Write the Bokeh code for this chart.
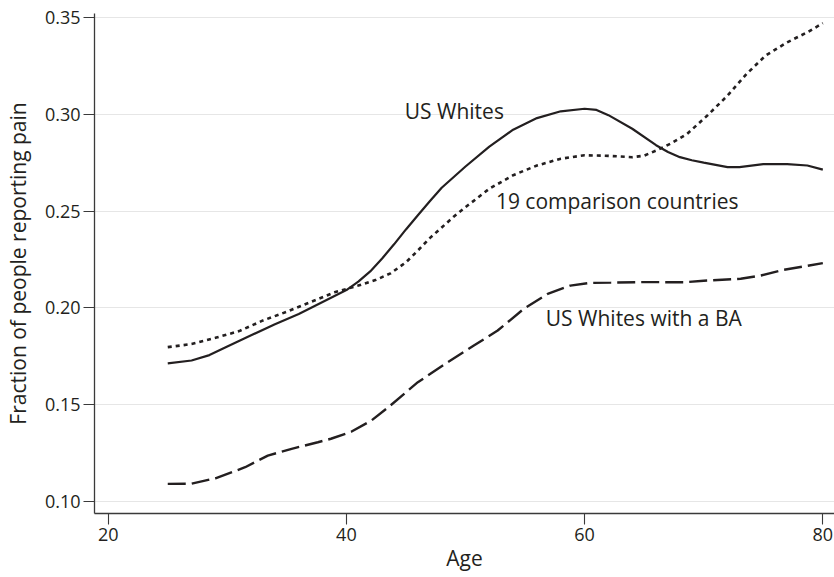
from bokeh.plotting import figure
from bokeh.models import Range1d, FixedTicker, NumeralTickFormatter, Label
from bokeh.embed import file_html
from bokeh.resources import INLINE

# ---------------- data ----------------
ages_us_whites = [25, 27, 28.5, 30, 32, 34, 36, 38, 40, 41, 42, 43, 44, 45, 46, 47,
                  48, 50, 52, 54, 56, 58, 60, 61, 62, 64, 66, 67, 68, 69, 70, 72,
                  73, 75, 77, 78.7, 80]
pain_us_whites = [0.1713, 0.1728, 0.1756, 0.1800, 0.1858, 0.1915, 0.1968, 0.2030,
                  0.2092, 0.2135, 0.2188, 0.2255, 0.2328, 0.2405, 0.2478, 0.2550,
                  0.2620, 0.2730, 0.2833, 0.2920, 0.2980, 0.3015, 0.3028, 0.3022,
                  0.2995, 0.2925, 0.2840, 0.2805, 0.2778, 0.2762, 0.2750, 0.2727,
                  0.2727, 0.2742, 0.2742, 0.2735, 0.2714]

ages_comparison = [25, 27, 29, 31, 33, 35, 37, 39, 41, 42.5, 43.7, 45, 46, 47, 48,
                   49, 50, 52, 54, 56, 58, 60, 62, 64, 65, 66, 67.2, 68.6, 70.3,
                   72, 73.6, 75.2, 77, 78.7, 80]
pain_comparison = [0.1797, 0.1813, 0.1845, 0.1880, 0.1935, 0.1980, 0.2030, 0.2080,
                   0.2115, 0.2145, 0.2178, 0.2235, 0.2296, 0.2360, 0.2415, 0.2470,
                   0.2520, 0.2615, 0.2685, 0.2735, 0.2770, 0.2788, 0.2785, 0.2778,
                   0.2786, 0.2812, 0.2847, 0.2898, 0.2993, 0.3096, 0.3208, 0.3303,
                   0.3371, 0.3423, 0.3470]

ages_us_whites_ba = [25, 27, 29, 31.5, 33.4, 35.4, 37.6, 38.7, 40.4, 42.1, 43.7, 46,
                     48.5, 50.7, 52.7, 54.9, 56.9, 58.8, 60.5, 62.2, 65, 68.3, 70,
                     73.1, 74.8, 76.7, 80]
pain_us_whites_ba = [0.1091, 0.1092, 0.1120, 0.1177, 0.1237, 0.1272, 0.1306, 0.1324,
                     0.1360, 0.1418, 0.1496, 0.1616, 0.1719, 0.1805, 0.1883, 0.1995,
                     0.2072, 0.2115, 0.2129, 0.2130, 0.2133, 0.2132, 0.2140, 0.2150,
                     0.2167, 0.2196, 0.2231]

x_ticks = [20, 40, 60, 80]
y_ticks = [0.10, 0.15, 0.20, 0.25, 0.30, 0.35]

series_labels = ["US Whites", "19 comparison countries", "US Whites with a BA"]
x_title = "Age"
y_title = "Fraction of people reporting pain"

# ---------------- styling / layout ----------------
INK = "#231f20"
FONT = "Open Sans"

p = figure(width=834, height=577,
           x_range=Range1d(18.85, 80.98), y_range=Range1d(0.0938, 0.3520),
           output_backend="svg", toolbar_location=None,
           min_border_left=93, min_border_right=0,
           min_border_top=13, min_border_bottom=64)
p.outline_line_color = None
p.background_fill_color = "white"
p.border_fill_color = "white"

p.xgrid.grid_line_color = None
p.ygrid.grid_line_color = "#e6e6e6"
p.ygrid.grid_line_width = 1

p.xaxis.ticker = FixedTicker(ticks=x_ticks)
p.yaxis.ticker = FixedTicker(ticks=y_ticks)
p.yaxis.formatter = NumeralTickFormatter(format="0.00")

for ax in (p.xaxis[0], p.yaxis[0]):
    ax.axis_line_color = "#3a3a3a"
    ax.axis_line_width = 1.3
    ax.major_tick_line_color = "#3a3a3a"
    ax.major_tick_line_width = 1.1
    ax.major_tick_out = 11
    ax.major_tick_in = 0
    ax.minor_tick_line_color = None
    ax.major_label_text_font = FONT
    ax.major_label_text_font_size = "18px"
    ax.major_label_text_color = INK
    ax.axis_label_text_font = FONT
    ax.axis_label_text_font_size = "21px"
    ax.axis_label_text_font_style = "normal"
    ax.axis_label_text_color = INK

p.xaxis.axis_label = x_title
p.yaxis.axis_label = y_title
p.xaxis.major_label_standoff = 3
p.xaxis.axis_label_standoff = 0
p.yaxis.major_label_standoff = 3
p.yaxis.axis_label_standoff = 10

p.line(ages_us_whites, pain_us_whites, line_color=INK, line_width=2.2)
p.line(ages_comparison, pain_comparison, line_color=INK, line_width=2.6,
       line_dash="4 4")
p.line(ages_us_whites_ba, pain_us_whites_ba, line_color=INK, line_width=2.4,
       line_dash="18 6")

label_pos = [(44.9, 0.3019), (52.55, 0.2554), (56.74, 0.1950)]
for text, (lx, ly) in zip(series_labels, label_pos):
    p.add_layout(Label(x=lx, y=ly, text=text, text_font=FONT,
                       text_font_size="21px", text_color=INK,
                       text_baseline="middle", text_align="left"))

open("out.html", "w").write(file_html(p, INLINE))
